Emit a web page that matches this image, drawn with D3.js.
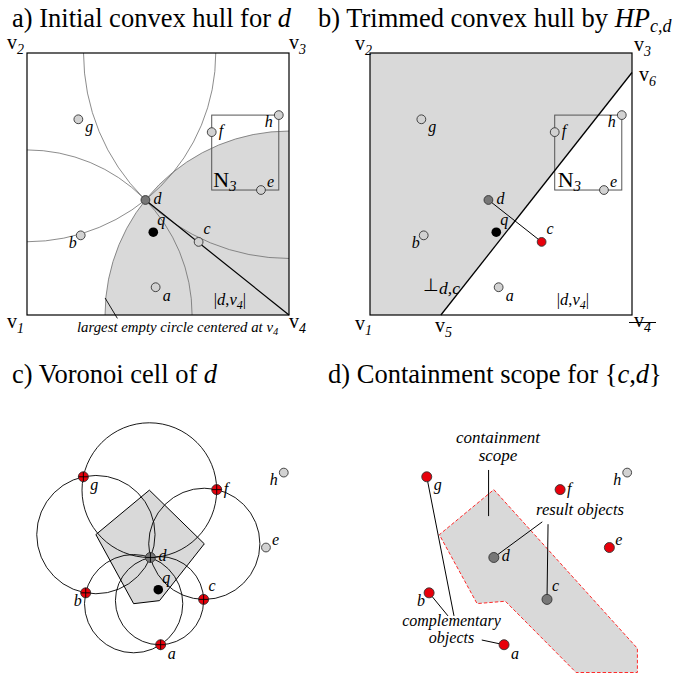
<!DOCTYPE html>
<html><head><meta charset="utf-8">
<script src="https://cdn.jsdelivr.net/npm/d3@7"></script>
<style>
  body{margin:0;background:#fff}
  svg{display:block}
</style>
</head><body>
<svg id="fig" width="696" height="678"></svg>
<script>
// ---- data: object positions in a 0–100 space (y grows upwards) ----
const objects = ["a", "b", "c", "d", "e", "f", "g", "h"];
const objX    = [49.1, 20.5, 65.5, 45.2, 89.3, 70.5, 19.6, 96.1];
const objY    = [10.6, 30.4, 27.9, 43.9, 47.7, 69.8, 74.7, 76.3];
const queryXY = [48.2, 31.6];
const n3Members = ["e", "f", "h"];

// corners of the data space
const cornerNames = ["1", "2", "3", "4"];
const cornerX = [0, 0, 100, 100];
const cornerY = [0, 100, 100, 0];

// Voronoi neighbours of d, in order around it
const cellRing = ["g", "f", "c", "a", "b"];
const complementary = ["a", "b", "e", "f", "g"];
const resultObjects = ["c", "d"];

// containment scope outline for {c,d}
const scopeX = [45.2, 100, 100, 76.6, 49.6, 38.8, 24.4];
const scopeY = [69.8, 9.2, 0, 0, 27.2, 26.3, 52.6];

// label offsets (px) for each object
const labelDX = [7, -12, 5, 8, 6, 7, 7, -14];
const labelDY = [14, 13, -8, 4, -3, 4, 13, 12];

// ---- layout ----
const SIZE = 262;
const panels = {
  a: {x0: 27,    y0: 315},
  b: {x0: 370,   y0: 315},
  c: {x0: 32,    y0: 672.5},
  d: {x0: 375.4, y0: 672.5}
};
const FONT = "Liberation Serif";
const LIGHT = "#d9d9d9", PT = "#d2d2d2", DARK = "#777777", RED = "#e8000b";

const svg = d3.select("#fig");
const idx = Object.fromEntries(objects.map((n, i) => [n, i]));
const P = n => [objX[idx[n]], objY[idx[n]]];

function scalesFor(p) {
  return {
    x: d3.scaleLinear([0, 100], [p.x0, p.x0 + SIZE]),
    y: d3.scaleLinear([0, 100], [p.y0, p.y0 - SIZE])
  };
}

function txt(g, x, y, size) {
  return g.append("text").attr("x", x).attr("y", y).attr("font-size", size).style("font-family", FONT);
}

// text with italic / subscript runs
function rich(g, x, y, parts, size = 16, anchor = "start") {
  const t = txt(g, x, y, size).attr("text-anchor", anchor);
  let shift = 0;
  parts.forEach(p => {
    const s = t.append("tspan").text(p.t);
    if (p.it) s.attr("font-style", "italic");
    if (p.size) s.attr("font-size", p.size);
    const target = p.dy || 0;
    if (target !== shift) { s.attr("dy", target - shift); shift = target; }
  });
  return t;
}

function dot(g, sx, sy, pt, fill, r = 4.4) {
  return g.append("circle").attr("cx", sx(pt[0])).attr("cy", sy(pt[1])).attr("r", r)
    .attr("fill", fill).attr("stroke", "#333").attr("stroke-width", 0.9);
}

function objLabel(g, sx, sy, name) {
  const i = idx[name];
  txt(g, sx(objX[i]) + labelDX[i], sy(objY[i]) + labelDY[i], 16).attr("font-style", "italic").text(name);
}

function queryMark(g, sx, sy) {
  g.append("circle").attr("cx", sx(queryXY[0])).attr("cy", sy(queryXY[1])).attr("r", 4.8).attr("fill", "#000");
  txt(g, sx(queryXY[0]) + 4, sy(queryXY[1]) - 7, 16).attr("font-style", "italic").text("q");
}

function vLabel(g, x, y, num, size = 20) {
  return rich(g, x, y, [{t: "v"}, {t: num, it: true, size: size * 0.7, dy: 5}], size);
}

function circumcenter(p1, p2, p3) {
  const [ax, ay] = p1, [bx, by] = p2, [cx, cy] = p3;
  const dd = 2 * (ax * (by - cy) + bx * (cy - ay) + cx * (ay - by));
  const a2 = ax * ax + ay * ay, b2 = bx * bx + by * by, c2 = cx * cx + cy * cy;
  return [(a2 * (by - cy) + b2 * (cy - ay) + c2 * (ay - by)) / dd,
          (a2 * (cx - bx) + b2 * (ax - cx) + c2 * (bx - ax)) / dd];
}

function boxClip(id, x, y) {
  svg.append("clipPath").attr("id", id).append("rect")
    .attr("x", x(0)).attr("y", y(100)).attr("width", x(100) - x(0)).attr("height", y(0) - y(100));
  return `url(#${id})`;
}

function n3Box(g, x, y, labelDx) {
  const ex = d3.extent(n3Members, n => P(n)[0]);
  const ey = d3.extent(n3Members, n => P(n)[1]);
  g.append("rect").attr("x", x(ex[0])).attr("y", y(ey[1]))
    .attr("width", x(ex[1]) - x(ex[0])).attr("height", y(ey[0]) - y(ey[1]))
    .attr("fill", "none").attr("stroke", "#555").attr("stroke-width", 1);
  rich(g, x(ex[0]) + labelDx, y(ey[0]) - 3, [{t: "N"}, {t: "3", it: true, size: 15, dy: 4}], 22);
}

function distLabel(g, x, y) {
  rich(g, x(71.3), y(3.8), [{t: "|"}, {t: "d", it: true}, {t: ","}, {t: "v", it: true},
    {t: "4", it: true, size: 12, dy: 4}, {t: "|", dy: 0}], 16.5);
}

// ---- titles ----
rich(svg, 12, 27, [{t: "a) Initial convex hull for "}, {t: "d", it: true}], 26.5);
rich(svg, 318, 27, [{t: "b) Trimmed convex hull by "}, {t: "HP", it: true}, {t: "c,d", it: true, size: 18, dy: 5}], 26.5);
rich(svg, 12, 383, [{t: "c) Voronoi cell of "}, {t: "d", it: true}], 26.5);
rich(svg, 328, 383, [{t: "d) Containment scope for {"}, {t: "c", it: true}, {t: ","}, {t: "d", it: true}, {t: "}"}], 26.5);

// ---- a) initial convex hull: empty circles centred at the corners ----
{
  const {x, y} = scalesFor(panels.a);
  const g = svg.append("g");
  const clip = boxClip("clipA", x, y);
  const d = P("d");
  const cg = g.append("g").attr("clip-path", clip);
  const radius = i => Math.hypot(x(cornerX[i]) - x(d[0]), y(cornerY[i]) - y(d[1]));
  // shaded disc around v4 first, then every circle outline on top
  cg.append("circle").attr("cx", x(cornerX[3])).attr("cy", y(cornerY[3])).attr("r", radius(3)).attr("fill", LIGHT);
  cornerX.forEach((cx, i) => {
    cg.append("circle").attr("cx", x(cx)).attr("cy", y(cornerY[i])).attr("r", radius(i))
      .attr("fill", "none").attr("stroke", "#6e6e6e").attr("stroke-width", 0.8);
  });
  n3Box(g, x, y, 1.5);
  g.append("line").attr("x1", x(d[0])).attr("y1", y(d[1])).attr("x2", x(100)).attr("y2", y(0))
    .attr("stroke", "#000").attr("stroke-width", 1.2);
  g.append("rect").attr("x", x(0)).attr("y", y(100)).attr("width", SIZE).attr("height", SIZE)
    .attr("fill", "none").attr("stroke", "#000").attr("stroke-width", 1.2);
  objects.forEach(n => { dot(g, x, y, P(n), n === "d" ? DARK : PT); objLabel(g, x, y, n); });
  queryMark(g, x, y);
  distLabel(g, x, y);
  // corner labels
  vLabel(g, x(0) - 20, y(100) - 4, cornerNames[1]);
  vLabel(g, x(100), y(100) - 4, cornerNames[2]);
  vLabel(g, x(0) - 20, y(0) + 13, cornerNames[0]);
  vLabel(g, x(100), y(0) + 13, cornerNames[3]);
  // caption for the v4 circle
  g.append("line").attr("x1", x(29.8)).attr("y1", y(6.5)).attr("x2", x(34.5)).attr("y2", y(-1.3))
    .attr("stroke", "#000").attr("stroke-width", 0.9);
  rich(g, 77, 332, [{t: "largest empty circle centered at v", it: true}, {t: "4", it: true, size: 10.5, dy: 3}], 14.8);
}

// ---- b) hull trimmed by the half-plane of d against c ----
{
  const {x, y} = scalesFor(panels.b);
  const g = svg.append("g");
  const d = P("d"), c = P("c");
  const m = [(d[0] + c[0]) / 2, (d[1] + c[1]) / 2];
  const nrm = [c[0] - d[0], c[1] - d[1]];
  const side = p => (p[0] - m[0]) * nrm[0] + (p[1] - m[1]) * nrm[1];
  // clip the square to the side of d (Sutherland–Hodgman)
  const square = cornerX.map((cx, i) => [cx, cornerY[i]]);
  const kept = [];
  square.forEach((p, i) => {
    const q = square[(i + 1) % square.length];
    const sp = side(p), sq = side(q);
    if (sp <= 0) kept.push(p);
    if ((sp < 0 && sq > 0) || (sp > 0 && sq < 0)) {
      const t = sp / (sp - sq);
      kept.push([p[0] + t * (q[0] - p[0]), p[1] + t * (q[1] - p[1])]);
    }
  });
  g.append("path").attr("d", d3.line().x(p => x(p[0])).y(p => y(p[1]))(kept) + "Z").attr("fill", LIGHT);
  // bisector segment within the square
  const dir = [-nrm[1], nrm[0]];
  let t0 = -Infinity, t1 = Infinity;
  [[dir[0], m[0]], [dir[1], m[1]]].forEach(([dv, mv]) => {
    const a = (0 - mv) / dv, b = (100 - mv) / dv;
    t0 = Math.max(t0, Math.min(a, b)); t1 = Math.min(t1, Math.max(a, b));
  });
  const v5 = [m[0] + t0 * dir[0], m[1] + t0 * dir[1]];
  const v6 = [m[0] + t1 * dir[0], m[1] + t1 * dir[1]];
  g.append("rect").attr("x", x(0)).attr("y", y(100)).attr("width", SIZE).attr("height", SIZE)
    .attr("fill", "none").attr("stroke", "#000").attr("stroke-width", 1.2);
  n3Box(g, x, y, 3);
  g.append("line").attr("x1", x(v5[0])).attr("y1", y(v5[1])).attr("x2", x(v6[0])).attr("y2", y(v6[1]))
    .attr("stroke", "#000").attr("stroke-width", 1.3);
  g.append("line").attr("x1", x(d[0])).attr("y1", y(d[1])).attr("x2", x(c[0])).attr("y2", y(c[1]))
    .attr("stroke", "#000").attr("stroke-width", 1);
  objects.forEach(n => {
    dot(g, x, y, P(n), n === "c" ? RED : n === "d" ? DARK : PT);
    objLabel(g, x, y, n);
  });
  queryMark(g, x, y);
  distLabel(g, x, y);
  vLabel(g, x(0) - 15, y(100) - 3, cornerNames[1]);
  vLabel(g, x(100) + 2, y(100) - 2, cornerNames[2]);
  vLabel(g, x(0) - 15, y(0) + 15, cornerNames[0]);
  vLabel(g, x(100) + 2, y(0) + 12, cornerNames[3]);
  g.append("line").attr("x1", x(100) - 3).attr("x2", x(100) + 24).attr("y1", y(0) + 7.5).attr("y2", y(0) + 7.5)
    .attr("stroke", "#000").attr("stroke-width", 1);
  vLabel(g, x(v5[0]) - 6, y(v5[1]) + 17, "5");
  vLabel(g, x(v6[0]) + 7, y(v6[1]) + 8, "6");
  rich(g, 423, 291, [{t: "⊥"}, {t: "d,c", it: true, dy: 3}], 17.5);
}

// ---- c) Voronoi cell of d with the empty circles at its vertices ----
{
  const {x, y} = scalesFor(panels.c);
  const g = svg.append("g");
  const d = P("d");
  const verts = cellRing.map((n, i) => circumcenter(d, P(n), P(cellRing[(i + 1) % cellRing.length])));
  g.append("path").attr("d", d3.line().x(p => x(p[0])).y(p => y(p[1]))(verts) + "Z")
    .attr("fill", LIGHT).attr("stroke", "#000").attr("stroke-width", 1);
  verts.forEach(v => {
    g.append("circle").attr("cx", x(v[0])).attr("cy", y(v[1]))
      .attr("r", Math.hypot(x(v[0]) - x(d[0]), y(v[1]) - y(d[1])))
      .attr("fill", "none").attr("stroke", "#000").attr("stroke-width", 0.9);
  });
  objects.forEach(n => {
    const red = cellRing.includes(n);
    const r = red || n === "d" ? 5 : 4.4;
    dot(g, x, y, P(n), red ? RED : n === "d" ? DARK : PT, r);
    if (red || n === "d") {
      const [px, py] = [x(P(n)[0]), y(P(n)[1])];
      g.append("path").attr("d", `M${px - r},${py}H${px + r}M${px},${py - r}V${py + r}`)
        .attr("stroke", "#000").attr("stroke-width", 0.9);
    }
    objLabel(g, x, y, n);
  });
  queryMark(g, x, y);
}

// ---- d) containment scope for {c,d} ----
{
  const {x, y} = scalesFor(panels.d);
  const g = svg.append("g");
  const scope = scopeX.map((sx, i) => [sx, scopeY[i]]);
  g.append("path").attr("d", d3.line().x(p => x(p[0])).y(p => y(p[1]))(scope) + "Z")
    .attr("fill", LIGHT).attr("stroke", "#ff2a2a").attr("stroke-width", 1).attr("stroke-dasharray", "3.5,2");
  const lead = (a, b) => g.append("line").attr("x1", x(a[0])).attr("y1", y(a[1])).attr("x2", x(b[0])).attr("y2", y(b[1]))
    .attr("stroke", "#000").attr("stroke-width", 1);
  // leader lines
  lead([43.2, 77.3], [43.2, 59.7]);
  lead([63.7, 57.5], P("d"));
  lead([65.9, 56.6], P("c"));
  lead(P("g"), [30, 21.6]);
  lead(P("b"), [27.7, 21.6]);
  lead([40.6, 12.4], P("a"));
  objects.forEach(n => {
    const fill = complementary.includes(n) ? RED : resultObjects.includes(n) ? DARK : PT;
    dot(g, x, y, P(n), fill, complementary.includes(n) || resultObjects.includes(n) ? 5 : 4.4);
    objLabel(g, x, y, n);
  });
  const it = (tx, ty, s, size) => txt(g, tx, ty, size).attr("text-anchor", "middle")
    .attr("font-style", "italic").text(s);
  it(498, 443, "containment", 17);
  it(498, 461, "scope", 17);
  it(580, 515, "result objects", 16.5);
  it(451.5, 626, "complementary", 16);
  it(451.5, 643, "objects", 16);
}
</script>
</body></html>
